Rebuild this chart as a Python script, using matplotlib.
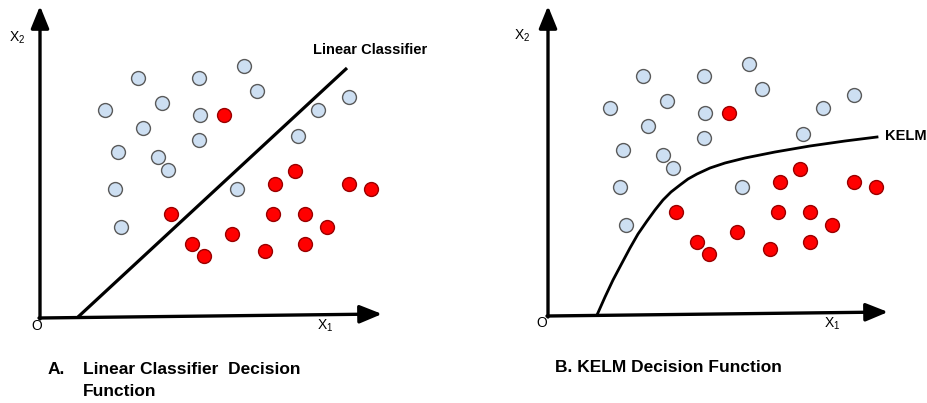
import matplotlib.pyplot as plt

plt.rcParams['font.family'] = ['Liberation Sans', 'DejaVu Sans']

# point positions (image pixels), left panel; right panel is the same cloud shifted
blue_x = [138, 199, 244, 257, 105, 162, 200, 143, 318, 349, 199, 118, 158, 168, 298, 115, 237, 121]
blue_y = [78, 78, 66, 91, 110, 103, 115, 128, 110, 97, 140, 152, 157, 170, 136, 189, 189, 227]
red_x = [224, 275, 295, 349, 371, 171, 273, 305, 327, 192, 232, 204, 265, 305]
red_y = [115, 184, 171, 184, 189, 214, 214, 214, 227, 244, 234, 256, 251, 244]
shift_x = 505
shift_y = -2

# decision boundaries
linear_x = [78, 347]
linear_y = [317, 68]
kelm_x = [597, 605, 613, 622, 630, 638, 647, 655, 663, 671, 680, 688, 697, 710, 725, 745, 775, 810, 845, 877]
kelm_y = [315, 297, 280, 263, 248, 234, 221, 210, 200, 192, 185, 179, 174, 168, 163, 158, 152, 146, 141, 137]

blue_face = '#cddff2'
blue_edge = '#5a5a5a'
red_face = '#ff0000'
red_edge = '#9a0000'

fig = plt.figure(figsize=(9.27, 4.03), dpi=100)
ax = fig.add_axes([0, 0, 1, 1])
ax.set_xlim(0, 927)
ax.set_ylim(403, 0)
ax.axis('off')


def draw_axes(ox, oy, top, right, right_y):
    style = '-|>,head_length=1.35,head_width=0.55'
    ax.annotate('', xy=(ox, top), xytext=(ox, oy + 1),
                arrowprops=dict(arrowstyle=style, lw=2.4, color='black',
                                shrinkA=0, shrinkB=0))
    ax.annotate('', xy=(right, right_y), xytext=(ox - 1, oy),
                arrowprops=dict(arrowstyle=style, lw=2.4, color='black',
                                shrinkA=0, shrinkB=0))


draw_axes(40, 318, 6, 382, 314)
draw_axes(548, 316, 6, 888, 312)

for dx, dy in [(0, 0), (shift_x, shift_y)]:
    bx = [v + dx for v in blue_x]
    by = [v + dy for v in blue_y]
    rx = [v + dx for v in red_x]
    ry = [v + dy for v in red_y]
    ax.plot(bx, by, 'o', ms=10, mfc=blue_face, mec=blue_edge, mew=1.0, zorder=3)
    ax.plot(rx, ry, 'o', ms=10, mfc=red_face, mec=red_edge, mew=1.0, zorder=3)

ax.plot(linear_x, linear_y, color='black', lw=2.3, solid_capstyle='butt')
ax.plot(kelm_x, kelm_y, color='black', lw=2.0, solid_joinstyle='round')

ax.text(313, 50, 'Linear Classifier', fontsize=10.5, fontweight='bold', va='center')
ax.text(885, 136, 'KELM', fontsize=10.5, fontweight='bold', va='center')

# axis labels
ax.text(9, 38, r'X$_\mathregular{2}$', fontsize=10, va='center')
ax.text(31, 326, 'O', fontsize=10, va='center')
ax.text(317, 326, r'X$_\mathregular{1}$', fontsize=10, va='center')
ax.text(514, 36, r'X$_\mathregular{2}$', fontsize=10, va='center')
ax.text(536, 323, 'O', fontsize=10, va='center')
ax.text(824, 324, r'X$_\mathregular{1}$', fontsize=10, va='center')

# captions
ax.text(48, 370, 'A.', fontsize=12.5, fontweight='bold', va='center')
ax.text(83, 370, 'Linear Classifier  Decision', fontsize=12.5, fontweight='bold', va='center')
ax.text(83, 391, 'Function', fontsize=12.5, fontweight='bold', va='center')
ax.text(555, 367, 'B. KELM Decision Function', fontsize=12.5, fontweight='bold', va='center')

plt.savefig('out.png', dpi=100)
